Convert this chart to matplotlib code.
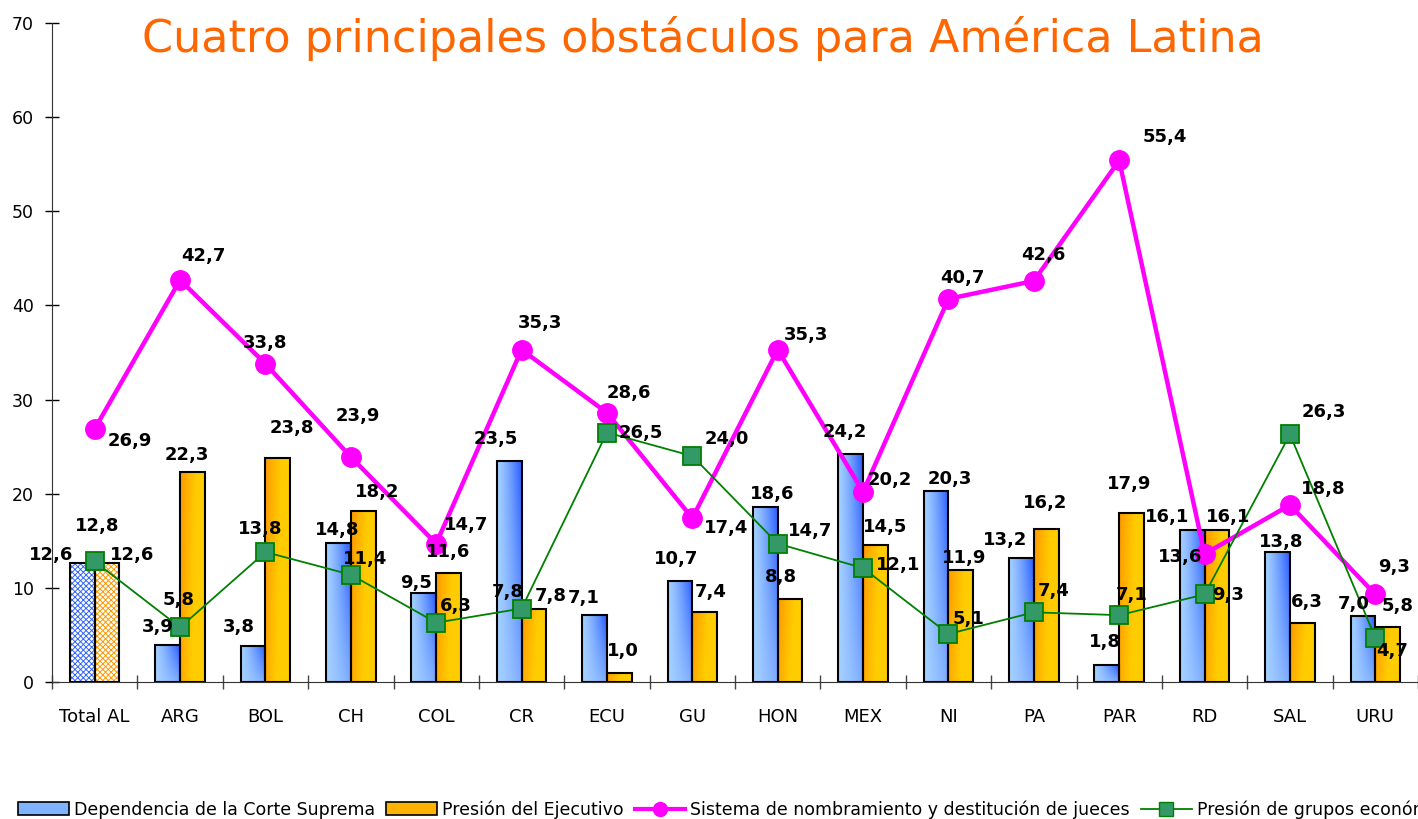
import numpy as np
import matplotlib
matplotlib.use('Agg')
import matplotlib.pyplot as plt
from matplotlib.patches import Patch
from matplotlib.lines import Line2D
from matplotlib.colors import to_rgb

categories = ['Total AL', 'ARG', 'BOL', 'CH', 'COL', 'CR', 'ECU', 'GU', 'HON',
              'MEX', 'NI', 'PA', 'PAR', 'RD', 'SAL', 'URU']
corte = [12.6, 3.9, 3.8, 14.8, 9.5, 23.5, 7.1, 10.7, 18.6, 24.2, 20.3, 13.2, 1.8, 16.1, 13.8, 7.0]
ejecutivo = [12.6, 22.3, 23.8, 18.2, 11.6, 7.8, 1.0, 7.4, 8.8, 14.5, 11.9, 16.2, 17.9, 16.1, 6.3, 5.8]
sistema = [26.9, 42.7, 33.8, 23.9, 14.7, 35.3, 28.6, 17.4, 35.3, 20.2, 40.7, 42.6, 55.4, 13.6, 18.8, 9.3]
grupos = [12.8, 5.8, 13.8, 11.4, 6.3, 7.8, 26.5, 24.0, 14.7, 12.1, 5.1, 7.4, 7.1, 9.3, 26.3, 4.7]

series_names = ['Dependencia de la Corte Suprema', 'Presión del Ejecutivo',
                'Sistema de nombramiento y destitución de jueces',
                'Presión de grupos económicos']
title = 'Cuatro principales obstáculos para América Latina'

# décalages des étiquettes (pixels, x droite / y haut)
off_corte = [(-31, 8), (-10, 18), (-14, 19), (-1, 13), (-8, 10), (-13, 22), (-11, 17), (-4, 22),
             (7, 13), (-6, 22), (14, 12), (-16, 18), (-2, 23), (-25, 13), (4, 10), (-9, 12)]
off_ejec = [(25, 8), (-6, 17), (14, 30), (14, 19), (0, 21), (17, 13), (4, 22), (6, 20),
            (-9, 22), (10, 18), (3, 12), (-1, 26), (-2, 29), (11, 13), (4, 21), (10, 21)]
off_sist = [(35, -12), (23, 24), (0, 21), (7, 41), (30, 19), (18, 27), (22, 20), (34, -10),
            (28, 15), (27, 12), (14, 21), (10, 26), (46, 23), (-24, -3), (33, 16), (19, 27)]
off_grup = [(2, 35), (-1, 27), (-5, 23), (14, 16), (20, 17), (-14, 17), (34, 0), (34, 17),
            (32, 13), (35, 3), (20, 15), (20, 21), (12, 20), (23, -1), (34, 22), (17, -13)]

BLUE_L, BLUE_D = np.array(to_rgb('#a4d0ff')), np.array(to_rgb('#3366ff'))
ORA_D, ORA_L = np.array(to_rgb('#ff9900')), np.array(to_rgb('#ffcc00'))


def fmt(v):
    return f"{v:.1f}".replace('.', ',')


def gradient_fill(ax, bar, kind):
    x0, y0 = bar.get_x(), bar.get_y()
    w, h = bar.get_width(), bar.get_height()
    n = 48
    xx, yy = np.meshgrid(np.linspace(0, 1, n), np.linspace(0, 1, n))
    if kind == 'blue':
        t = np.clip(xx ** 1.3 * (0.35 + 0.75 * yy), 0, 1)
        img = BLUE_L * (1 - t)[..., None] + BLUE_D * t[..., None]
    else:
        t = np.clip(1.5 * xx + 0.3 * (1 - yy), 0, 1)
        img = ORA_D * (1 - t)[..., None] + ORA_L * t[..., None]
    im = ax.imshow(img, extent=[x0, x0 + w, y0, y0 + h], origin='lower',
                   aspect='auto', interpolation='bilinear', zorder=1)
    im.set_clip_path(bar)


plt.rcParams['font.family'] = ['DejaVu Sans']
plt.rcParams['hatch.linewidth'] = 0.7

fig = plt.figure(figsize=(14.18, 8.19), dpi=100)
ax = fig.add_axes([0.0367, 0.1673, 0.9633, 0.8046])

x = np.arange(len(categories))
bw = 0.29

bars_c = ax.bar(x - bw / 2, corte, bw, facecolor='none', edgecolor='black', linewidth=1.5, zorder=2)
bars_e = ax.bar(x + bw / 2, ejecutivo, bw, facecolor='none', edgecolor='black', linewidth=1.5, zorder=2)

for i, (bc, be) in enumerate(zip(bars_c, bars_e)):
    if i == 0:
        # Total AL : motif tramé
        ax.bar(x[0] - bw / 2, corte[0], bw, facecolor='white', edgecolor='#3366ff',
               hatch='xxxxxx', linewidth=0, zorder=1)
        ax.bar(x[0] + bw / 2, ejecutivo[0], bw, facecolor='white', edgecolor='#ff9900',
               hatch='xxxxxx', linewidth=0, zorder=1)
    else:
        gradient_fill(ax, bc, 'blue')
        gradient_fill(ax, be, 'orange')

ax.plot(x, sistema, color='#ff00ff', linewidth=3.2, marker='o', markersize=14,
        markerfacecolor='#ff00ff', markeredgecolor='#ff00ff', zorder=3)
ax.plot(x, grupos, color='#008000', linewidth=1.3, marker='s', markersize=13,
        markerfacecolor='#339966', markeredgecolor='#008000', markeredgewidth=1.3, zorder=4)

lab_kw = dict(textcoords='offset pixels', ha='center', va='center',
              fontsize=13, fontweight='bold', color='black', zorder=6)
for i in range(len(categories)):
    ax.annotate(fmt(corte[i]), (x[i] - bw / 2, corte[i]), xytext=off_corte[i], **lab_kw)
    ax.annotate(fmt(ejecutivo[i]), (x[i] + bw / 2, ejecutivo[i]), xytext=off_ejec[i], **lab_kw)
    ax.annotate(fmt(sistema[i]), (x[i], sistema[i]), xytext=off_sist[i], **lab_kw)
    ax.annotate(fmt(grupos[i]), (x[i], grupos[i]), xytext=off_grup[i], **lab_kw)

ax.set_xlim(-0.5, len(categories) - 0.5)
ax.set_ylim(0, 70)
ax.set_yticks(range(0, 71, 10))
ax.set_xticks(x)
ax.set_xticklabels(categories)
ax.set_xticks(np.arange(-0.5, len(categories) - 0.4, 1), minor=True)
ax.tick_params(axis='x', which='major', length=0, pad=19, labelsize=13)
ax.tick_params(axis='x', which='minor', direction='inout', length=10, width=1, color='#444444')
ax.tick_params(axis='y', direction='inout', length=10, width=1, labelsize=12.5, pad=8)
for s in ('top', 'right'):
    ax.spines[s].set_visible(False)
ax.spines['left'].set_color('#333333')
ax.spines['bottom'].set_color('#333333')

fig.text(0.496, 0.953, title, ha='center', va='center', fontsize=32, color='#ff6600')

handles = [Patch(facecolor='#7fb2ff', edgecolor='black', linewidth=1.2),
           Patch(facecolor='#ffb300', edgecolor='black', linewidth=1.2),
           Line2D([], [], color='#ff00ff', linewidth=3, marker='o', markersize=10),
           Line2D([], [], color='#008000', linewidth=1.3, marker='s', markersize=10,
                  markerfacecolor='#339966', markeredgecolor='#008000')]
fig.legend(handles, series_names, loc='lower left', bbox_to_anchor=(0.008, -0.008),
           ncol=4, frameon=False, fontsize=12.5, handlelength=2.9, handleheight=0.7,
           handletextpad=0.3, columnspacing=0.65, borderaxespad=0)

fig.savefig('out.png', dpi=100)
